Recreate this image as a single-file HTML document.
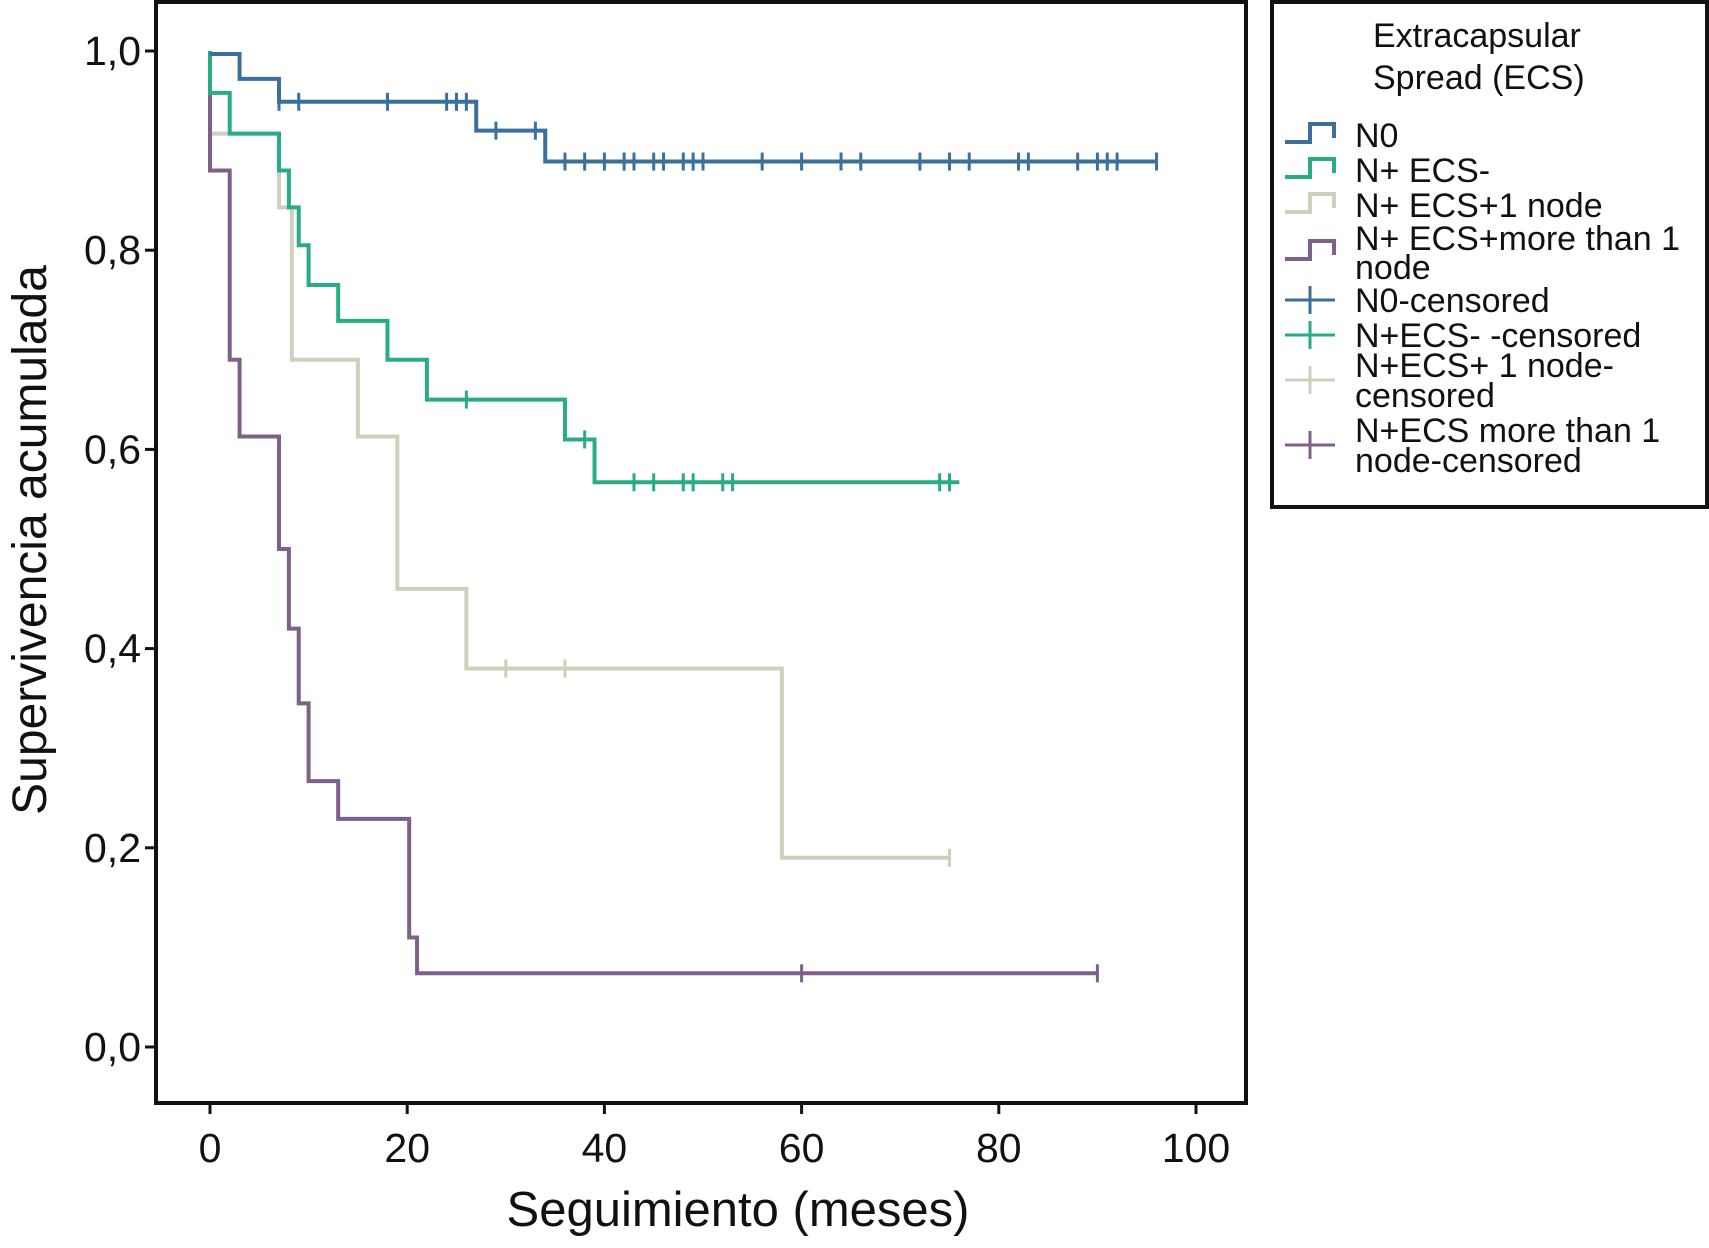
<!DOCTYPE html>
<html><head><meta charset="utf-8"><style>
html,body{margin:0;padding:0;background:#fff;}
svg{display:block;font-family:"Liberation Sans",Arial,sans-serif;}
</style></head><body>
<svg id="chart" width="1709" height="1248" viewBox="0 0 1709 1248" xmlns="http://www.w3.org/2000/svg">
<rect x="156" y="2" width="1090" height="1101" fill="#fff" stroke="#111" stroke-width="4"/>
<g id="axes"></g>
<g id="series"></g>
<text x="738" y="1226" font-size="49" text-anchor="middle" fill="#111">Seguimiento (meses)</text>
<text transform="translate(46,540) rotate(-90)" font-size="48" text-anchor="middle" fill="#111">Supervivencia acumulada</text>
<g>
<rect x="1272" y="2" width="435" height="505" fill="#fff" stroke="#111" stroke-width="4"/>
<text font-size="34" fill="#111"><tspan x="1373" y="47">Extracapsular</tspan><tspan x="1373" y="89">Spread (ECS)</tspan></text>
<g id="legend-entries"></g>
</g>
</svg>
<script>
const xTicks = [0,20,40,60,80,100];
const yTicks = [0,0.2,0.4,0.6,0.8,1.0];
const yTickLabels = ["0,0","0,2","0,4","0,6","0,8","1,0"];
const seriesNames = ["N0","N+ ECS-","N+ ECS+1 node","N+ ECS+more than 1 node"];
const seriesColors = ["#3b6f9c","#2aab88","#cfd0bb","#7f608b"];
const n0Times = [0,3,7,27,34,96];
const n0Surv = [0.997,0.972,0.949,0.92,0.889,0.889];
const n0Cens = [7,9,18,24,25,26,29,33,36,38,40,42,43,45,46,48,49,50,56,60,64,66,72,75,77,82,83,88,90,91,92,96];
const ecsNegTimes = [0,0,2,7,8,9,10,13,18,22,36,39,76];
const ecsNegSurv = [1.0,0.958,0.917,0.88,0.843,0.805,0.765,0.729,0.69,0.65,0.61,0.567,0.567];
const ecsNegCens = [26,38,43,45,48,49,52,53,74,75];
const ecs1Times = [0,0,7,8.3,15,19,26,58,75];
const ecs1Surv = [1.0,0.917,0.843,0.69,0.613,0.46,0.38,0.19,0.19];
const ecs1Cens = [30,36,75];
const ecsMTimes = [0,0,2,3,7,8,9,10,13,20.2,21,90];
const ecsMSurv = [1.0,0.88,0.69,0.613,0.5,0.42,0.345,0.267,0.229,0.11,0.074,0.074];
const ecsMCens = [60,90];

const X = t => 210 + t*9.86;
const Y = s => 1047 - s*996;
const NS = "http://www.w3.org/2000/svg";
function mk(tag, attrs, parent){const e=document.createElementNS(NS,tag);for(const k in attrs)e.setAttribute(k,attrs[k]);parent.appendChild(e);return e;}
const axes = document.getElementById('axes');
xTicks.forEach(v=>{
  const l = mk('line',{x1:X(v),x2:X(v),y1:1103,y2:1114,stroke:'#111','stroke-width':3},axes);
  
  
  const t = mk('text',{x:X(v),y:1162,'font-size':41,'text-anchor':'middle',fill:'#111'},axes);
  t.textContent=v;
  
  
});
yTicks.forEach((v,i)=>{
  const l = mk('line',{x1:145,x2:156,y1:Y(v),y2:Y(v),stroke:'#111','stroke-width':3},axes);
  
  
  const t = mk('text',{x:141,y:Y(v)+14,'font-size':41,'text-anchor':'end',fill:'#111'},axes);
  t.textContent=yTickLabels[i];
  
  
});
function survAt(times,surv,t){let s=surv[0];for(let i=0;i<times.length;i++){if(times[i]<=t)s=surv[i];}return s;}
const sg = document.getElementById('series');
const all = [[n0Times,n0Surv,n0Cens],[ecsNegTimes,ecsNegSurv,ecsNegCens],[ecs1Times,ecs1Surv,ecs1Cens],[ecsMTimes,ecsMSurv,ecsMCens]];
const order=[2,3,1,0];
order.forEach(k=>{
  const [ts,ss,cs]=all[k];
  let d=`M${X(ts[0])},${Y(ss[0])}`;
  for(let i=1;i<ts.length;i++){d+=` H${X(ts[i])} V${Y(ss[i])}`;}
  const p = mk('path',{d:d,fill:'none',stroke:seriesColors[k],'stroke-width':4},sg);
  
  
  cs.forEach(c=>{
    const y=Y(survAt(ts,ss,c));
    const m = mk('line',{x1:X(c),x2:X(c),y1:y-9,y2:y+9,stroke:seriesColors[k],'stroke-width':3},sg);
    
    
  });
});
const lg=document.getElementById('legend-entries');
const stepRows=[135,170,205,252];
const stepLabels=[["N0"],["N+ ECS-"],["N+ ECS+1 node"],["N+ ECS+more than 1","node"]];
stepRows.forEach((y,i)=>{
  const p=mk('path',{d:`M1285,${y+7} H1310 V${y-11} H1334 V${y+3}`,fill:'none',stroke:seriesColors[i],'stroke-width':4},lg);
  
  
  const lines=stepLabels[i];
  const t=mk('text',{'font-size':34,fill:'#111'},lg);
  
  
  lines.forEach((s,j)=>{const ts=mk('tspan',{x:1355,y:(lines.length>1? y-14+j*29 : y)+12},t);ts.textContent=s;});
});
const censRows=[300,335,380,445];
const censLabels=[["N0-censored"],["N+ECS- -censored"],["N+ECS+ 1 node-","censored"],["N+ECS more than 1","node-censored"]];
censRows.forEach((y,i)=>{
  const h=mk('line',{x1:1285,x2:1335,y1:y,y2:y,stroke:seriesColors[i],'stroke-width':3},lg);
  
  
  const v=mk('line',{x1:1310,x2:1310,y1:y-14,y2:y+14,stroke:seriesColors[i],'stroke-width':3},lg);
  
  
  const lines=censLabels[i];
  const t=mk('text',{'font-size':34,fill:'#111'},lg);
  
  
  lines.forEach((s,j)=>{const ts=mk('tspan',{x:1355,y:(lines.length>1? y-15+j*30 : y)+12},t);ts.textContent=s;});
});
</script>
</body></html>
